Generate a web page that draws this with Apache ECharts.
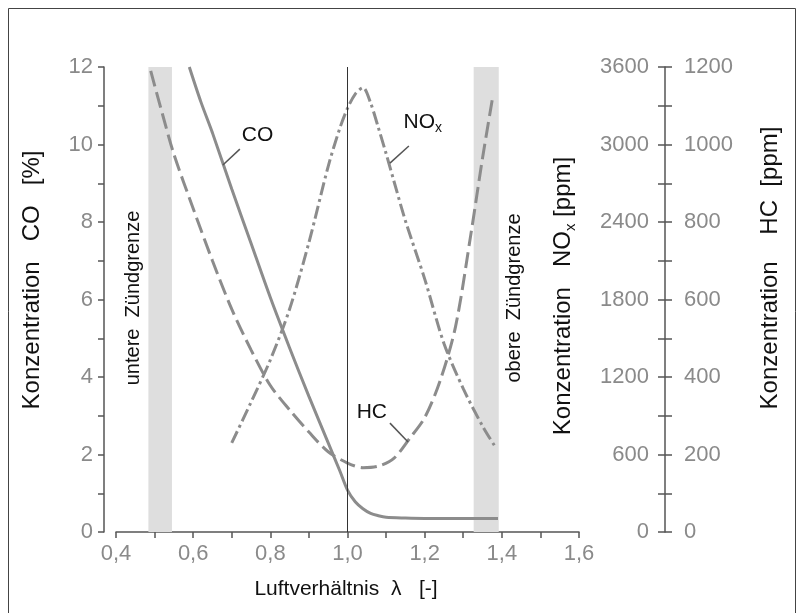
<!DOCTYPE html>
<html>
<head>
<meta charset="utf-8">
<script src="https://cdn.jsdelivr.net/npm/echarts@6/dist/echarts.min.js"></script>
<style>
  html, body { margin: 0; padding: 0; background: #fff; }
  #chart { width: 801px; height: 613px; }
</style>
</head>
<body>
<div id="chart"></div>
<script>
// Air ratio lambda and exhaust concentrations
const lambdaCO = [0.59, 0.62, 0.65, 0.70, 0.75, 0.80, 0.85, 0.90, 0.95, 0.98, 1.00, 1.02, 1.04, 1.06, 1.08, 1.10, 1.15, 1.20, 1.30, 1.39];
const coPct    = [12.0, 11.1, 10.3, 8.85, 7.45, 6.05, 4.75, 3.50, 2.30, 1.58, 1.08, 0.78, 0.60, 0.48, 0.42, 0.38, 0.36, 0.35, 0.35, 0.35];

const lambdaHC = [0.49, 0.52, 0.55, 0.60, 0.65, 0.70, 0.75, 0.80, 0.85, 0.90, 0.95, 1.00, 1.04, 1.08, 1.12, 1.16, 1.20, 1.24, 1.28, 1.32, 1.35, 1.375];
const hcPpm    = [1190, 1080, 975, 835, 700, 575, 470, 378, 315, 258, 207, 178, 166, 170, 190, 240, 295, 390, 530, 770, 965, 1115];

const lambdaNOx = [0.70, 0.75, 0.80, 0.85, 0.90, 0.95, 0.98, 1.00, 1.02, 1.04, 1.06, 1.08, 1.10, 1.12, 1.15, 1.20, 1.25, 1.30, 1.35, 1.385];
const noxPpm    = [690, 1005, 1333, 1726, 2242, 2831, 3125, 3280, 3390, 3440, 3320, 3130, 2930, 2720, 2410, 1960, 1460, 1110, 820, 650];

// Ignition limits (grey bands) and stoichiometric line
const ignitionLower = [0.484, 0.545];
const ignitionUpper = [1.327, 1.392];
const stoichLambda = 1.0;

// Curve labels with leader lines: [label position, line start, line end]
const coLabel  = { text: 'CO', at: [0.767, 10.25], line: [[0.677, 9.47], [0.721, 9.88]] };
const noxLabel = { text: 'NO', at: [1.195, 3170], line: [[1.110, 2856], [1.159, 2988]] };
const hcLabel  = { text: 'HC', at: [1.063, 310], line: [[1.157, 232], [1.110, 281]] };

const zip = (xs, ys) => xs.map((x, i) => [x, ys[i]]);

const FONT = 'Liberation Sans, Arial, Helvetica, sans-serif';
const GREY_TXT = '#8a8a8a';
const AXIS_CLR = '#555';
const CURVE = '#8c8c8c';
const TICK_FS = 22;
const TITLE_FS = 24;

const chart = echarts.init(document.getElementById('chart'), null, { renderer: 'canvas' });

const leader = (pts) => ({
  symbol: 'none',
  silent: true,
  label: { show: false },
  lineStyle: { color: '#555', width: 1.5, type: 'solid' },
  data: [[{ coord: pts[0] }, { coord: pts[1] }]]
});

const tag = (lbl, rich) => ({
  symbol: 'rect',
  symbolSize: 0,
  silent: true,
  label: {
    show: true, position: 'inside', color: '#111', fontFamily: FONT, fontSize: 21,
    formatter: rich ? '{m|' + lbl.text + '}{s|x}' : lbl.text,
    rich: rich ? { m: { fontSize: 21, color: '#111', fontFamily: FONT, lineHeight: 26 },
                   s: { fontSize: 14, color: '#111', fontFamily: FONT, lineHeight: 26, verticalAlign: 'bottom', padding: [9, 0, 0, 0] } } : undefined
  },
  data: [{ coord: lbl.at }]
});

const option = {
  backgroundColor: '#fff',
  animation: false,
  grid: { left: 116, right: 222, top: 67, bottom: 81 },
  xAxis: {
    type: 'value', min: 0.4, max: 1.6, interval: 0.1,
    axisLine: { show: true, onZero: false, lineStyle: { color: AXIS_CLR, width: 1.5 } },
    axisTick: { show: true, length: 6, lineStyle: { color: AXIS_CLR, width: 1.5 } },
    splitLine: { show: false },
    axisLabel: {
      color: GREY_TXT, fontFamily: FONT, fontSize: TICK_FS, margin: 11,
      formatter: v => (Math.round(v * 10) % 2 === 0) ? v.toFixed(1).replace('.', ',') : ''
    }
  },
  yAxis: [
    {
      type: 'value', min: 0, max: 12, interval: 1, position: 'left', offset: 12,
      axisLine: { show: true, lineStyle: { color: AXIS_CLR, width: 1.5 } },
      axisTick: { show: true, length: 6, lineStyle: { color: AXIS_CLR, width: 1.5 } },
      splitLine: { show: false },
      axisLabel: { color: GREY_TXT, fontFamily: FONT, fontSize: TICK_FS, margin: 11,
        formatter: v => (Math.round(v) % 2 === 0) ? String(Math.round(v)) : '' }
    },
    {
      type: 'value', min: 0, max: 3600, interval: 300, position: 'right', offset: 86,
      axisLine: { show: true, lineStyle: { color: AXIS_CLR, width: 1.5 } },
      axisTick: { show: true, inside: true, length: 7, lineStyle: { color: AXIS_CLR, width: 1.5 } },
      splitLine: { show: false },
      axisLabel: { inside: true, color: GREY_TXT, fontFamily: FONT, fontSize: TICK_FS, margin: 16,
        formatter: v => (Math.round(v) % 600 === 0) ? String(Math.round(v)) : '' }
    },
    {
      type: 'value', min: 0, max: 1200, interval: 100, position: 'right', offset: 86,
      axisLine: { show: false },
      axisTick: { show: true, inside: false, length: 7, lineStyle: { color: AXIS_CLR, width: 1.5 } },
      splitLine: { show: false },
      axisLabel: { color: GREY_TXT, fontFamily: FONT, fontSize: TICK_FS, margin: 19,
        formatter: v => (Math.round(v) % 200 === 0) ? String(Math.round(v)) : '' }
    }
  ],
  series: [
    {
      name: 'CO', type: 'line', yAxisIndex: 0, data: zip(lambdaCO, coPct),
      smooth: 0.3, symbol: 'none', z: 3,
      lineStyle: { color: CURVE, width: 3 },
      markArea: {
        silent: true,
        itemStyle: { color: '#dedede' },
        data: [
          [{ xAxis: ignitionLower[0] }, { xAxis: ignitionLower[1] }],
          [{ xAxis: ignitionUpper[0] }, { xAxis: ignitionUpper[1] }]
        ]
      },
      markPoint: tag(coLabel, false)
    },
    {
      name: 'HC', type: 'line', yAxisIndex: 2, data: zip(lambdaHC, hcPpm),
      smooth: 0.3, symbol: 'none', z: 3,
      lineStyle: { color: CURVE, width: 3, type: [16, 6] },
      markLine: leader(hcLabel.line),
      markPoint: tag(hcLabel, false)
    },
    {
      name: 'NOx', type: 'line', yAxisIndex: 1, data: zip(lambdaNOx, noxPpm),
      smooth: 0.3, symbol: 'none', z: 3,
      lineStyle: { color: CURVE, width: 3, type: [13, 4, 3, 4] },
      markLine: leader(noxLabel.line),
      markPoint: tag(noxLabel, true)
    },
    {
      name: 'lambda1', type: 'line', yAxisIndex: 0, data: [], z: 2,
      markLine: {
        symbol: 'none', silent: true, label: { show: false },
        lineStyle: { color: '#333', width: 1, type: 'solid' },
        data: [{ xAxis: stoichLambda }]
      }
    },
    {
      name: 'coLeader', type: 'line', yAxisIndex: 0, data: [],
      markLine: leader(coLabel.line)
    }
  ],
  graphic: [
    { type: 'rect', silent: true, shape: { x: 8.5, y: 8.5, width: 787, height: 640 },
      style: { fill: 'none', stroke: '#444', lineWidth: 1 } },
    { type: 'text', x: 32, y: 280, rotation: Math.PI / 2, silent: true,
      style: { text: 'Konzentration   CO   [%]', fontFamily: FONT, fontSize: TITLE_FS, fill: '#111', align: 'center', verticalAlign: 'middle' } },
    { type: 'text', x: 133, y: 298, rotation: Math.PI / 2, silent: true,
      style: { text: 'untere  Zündgrenze', fontFamily: FONT, fontSize: 20, fill: '#111', align: 'center', verticalAlign: 'middle' } },
    { type: 'text', x: 514, y: 298, rotation: Math.PI / 2, silent: true,
      style: { text: 'obere  Zündgrenze', fontFamily: FONT, fontSize: 20, fill: '#111', align: 'center', verticalAlign: 'middle' } },
    { type: 'text', x: 563, y: 296, rotation: Math.PI / 2, silent: true,
      style: { text: '{m|Konzentration   NO}{s|x}{m| [ppm]}', fontFamily: FONT, fontSize: TITLE_FS, fill: '#111', align: 'center', verticalAlign: 'middle',
        rich: { m: { fontSize: TITLE_FS, fill: '#111', fontFamily: FONT, lineHeight: 30 },
                s: { fontSize: 15, fill: '#111', fontFamily: FONT, lineHeight: 30, verticalAlign: 'bottom', padding: [11, 0, 0, 0] } } } },
    { type: 'text', x: 770, y: 268, rotation: Math.PI / 2, silent: true,
      style: { text: 'Konzentration    HC  [ppm]', fontFamily: FONT, fontSize: TITLE_FS, fill: '#111', align: 'center', verticalAlign: 'middle' } },
    { type: 'text', x: 346, y: 589, silent: true,
      style: { text: 'Luftverhältnis  λ   [-]', fontFamily: FONT, fontSize: 21, fill: '#111', align: 'center', verticalAlign: 'middle' } }
  ]
};

chart.setOption(option);
</script>
</body>
</html>
